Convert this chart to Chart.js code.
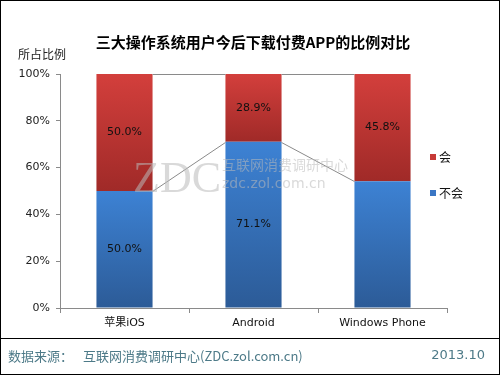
<!DOCTYPE html>
<html>
<head>
<meta charset="utf-8">
<script src="https://cdn.jsdelivr.net/npm/chart.js@4"></script>
<style>
  html, body { margin: 0; padding: 0; background: #fff; }
  #wrap { width: 500px; height: 375px; }
</style>
</head>
<body>
<div id="wrap"><canvas id="chart" width="500" height="375"></canvas></div>
<script>
// Data
const categories = ["苹果iOS", "Android", "Windows Phone"];
const noWill = [50.0, 71.1, 54.2];
const will = [50.0, 28.9, 45.8];
const noWillLabels = ["50.0%", "71.1%", ""];
const willLabels = ["50.0%", "28.9%", "45.8%"];
const yTicks = [0, 20, 40, 60, 80, 100];

const seriesNames = ["不会", "会"];
const CJK = '"Noto Sans CJK SC", "DejaVu Sans", sans-serif';
const LAT = '"DejaVu Sans", "Noto Sans CJK SC", sans-serif';

// vertical gradient for each stacked segment
function segFill(colTop, colBot, fallback) {
    return (ctx) => {
        const chart = ctx.chart;
        const y = chart.scales && chart.scales.y;
        if (!chart.chartArea || !y || ctx.type !== "data") return fallback;
        const di = ctx.datasetIndex, i = ctx.dataIndex;
        let base = 0;
        for (let k = 0; k < di; k++) base += chart.data.datasets[k].data[i];
        const top = base + chart.data.datasets[di].data[i];
        const g = chart.ctx.createLinearGradient(0, y.getPixelForValue(top), 0, y.getPixelForValue(base));
        g.addColorStop(0, colTop);
        g.addColorStop(1, colBot);
        return g;
    };
}

// frame, title, legend, labels, series lines, footer
const decor = {
    id: "decor",
    afterDatasetsDraw(chart) {
        const c = chart.ctx;
        const y = chart.scales.y;
        const m0 = chart.getDatasetMeta(0).data;
        const m1 = chart.getDatasetMeta(1).data;

        // series lines between bars
        c.save();
        c.strokeStyle = "#8a8a8a";
        c.lineWidth = 1;
        for (let i = 0; i < m0.length - 1; i++) {
            const a = m0[i], b = m0[i + 1];
            const ar = a.x + a.width / 2, bl = b.x - b.width / 2;
            c.beginPath();
            c.moveTo(ar, Math.round(a.y) + 0.5);
            c.lineTo(bl, Math.round(b.y) + 0.5);
            c.stroke();
            const ta = m1[i], tb = m1[i + 1];
            c.beginPath();
            c.moveTo(ar, Math.round(ta.y) + 0.5);
            c.lineTo(bl, Math.round(tb.y) + 0.5);
            c.stroke();
        }
        c.restore();

        // watermark
        c.save();
        c.fillStyle = "rgba(185,185,185,0.55)";
        c.font = '44px "Liberation Serif", serif';
        c.textBaseline = "alphabetic";
        c.fillText("ZDC", 133, 192);
        c.font = "14px " + CJK;
        c.fillText("互联网消费调研中心", 222, 170);
        c.font = "14px " + LAT;
        c.fillText("zdc.zol.com.cn", 222, 188);
        c.restore();

        // value labels
        c.save();
        c.fillStyle = "#111";
        c.font = "11px " + LAT;
        c.textAlign = "center";
        c.textBaseline = "middle";
        m0.forEach((bar, i) => {
            if (noWillLabels[i]) c.fillText(noWillLabels[i], bar.x, (bar.y + bar.base) / 2);
        });
        m1.forEach((bar, i) => {
            if (willLabels[i]) c.fillText(willLabels[i], bar.x, (bar.y + bar.base) / 2);
        });
        c.restore();
    },
    afterDraw(chart) {
        const c = chart.ctx;
        c.save();
        // title
        c.fillStyle = "#000";
        c.font = "bold 15px " + CJK;
        c.textAlign = "center";
        c.textBaseline = "middle";
        c.fillText("三大操作系统用户今后下载付费APP的比例对比", 253, 42);
        // y axis title
        c.font = "12px " + CJK;
        c.textAlign = "left";
        c.fillStyle = "#222";
        c.fillText("所占比例", 18, 54);

        // legend (reverse order)
        const leg = [
            { name: seriesNames[1], color: "#c73a37", y: 157 },
            { name: seriesNames[0], color: "#3a76c4", y: 193 }
        ];
        c.font = "12px " + CJK;
        leg.forEach(l => {
            c.fillStyle = l.color;
            c.fillRect(430, l.y - 3, 6, 6);
            c.fillStyle = "#111";
            c.fillText(l.name, 439, l.y);
        });

        // footer
        c.strokeStyle = "#000";
        c.lineWidth = 1;
        c.beginPath();
        c.moveTo(0, 338.5);
        c.lineTo(500, 338.5);
        c.stroke();
        c.fillStyle = "#4d7a88";
        c.font = "13px " + CJK;
        c.textAlign = "left";
        c.fillText("数据来源：", 8, 356);
        c.fillText("互联网消费调研中心(ZDC.zol.com.cn)", 83, 356);
        c.textAlign = "right";
        c.font = "13px " + LAT;
        c.fillText("2013.10", 485, 356);

        // outer frame
        c.strokeStyle = "#000";
        c.strokeRect(0.5, 0.5, 499, 374);
        c.restore();
    }
};

new Chart(document.getElementById("chart"), {
    type: "bar",
    data: {
        labels: categories,
        datasets: [
            {
                label: seriesNames[0],
                data: noWill,
                backgroundColor: segFill("#3d82d4", "#2c5b97", "#3a76c4"),
                categoryPercentage: 0.87,
                barPercentage: 0.5
            },
            {
                label: seriesNames[1],
                data: will,
                backgroundColor: segFill("#d33f3c", "#a02a28", "#c73a37"),
                categoryPercentage: 0.87,
                barPercentage: 0.5
            }
        ]
    },
    options: {
        responsive: false,
        animation: false,
        events: [],
        layout: { padding: { left: 0, right: 53, top: 74, bottom: 0 } },
        plugins: {
            legend: { display: false },
            title: { display: false },
            tooltip: { enabled: false }
        },
        scales: {
            x: {
                stacked: true,
                afterFit: s => { s.height = 67; },
                border: { color: "#8a8a8a" },
                grid: { offset: true, drawOnChartArea: false, tickLength: 5, color: "#8a8a8a" },
                ticks: { color: "#111", font: { family: LAT, size: 11 }, padding: 4 }
            },
            y: {
                stacked: true,
                min: 0,
                max: 100,
                afterFit: s => { s.width = 60; },
                afterBuildTicks: s => { s.ticks = yTicks.map(v => ({ value: v })); },
                border: { color: "#8a8a8a" },
                grid: { drawOnChartArea: false, tickLength: 4, color: "#8a8a8a" },
                ticks: {
                    color: "#222",
                    font: { family: LAT, size: 11 },
                    padding: 6,
                    callback: v => v + "%"
                }
            }
        }
    },
    plugins: [decor]
});
</script>
</body>
</html>
